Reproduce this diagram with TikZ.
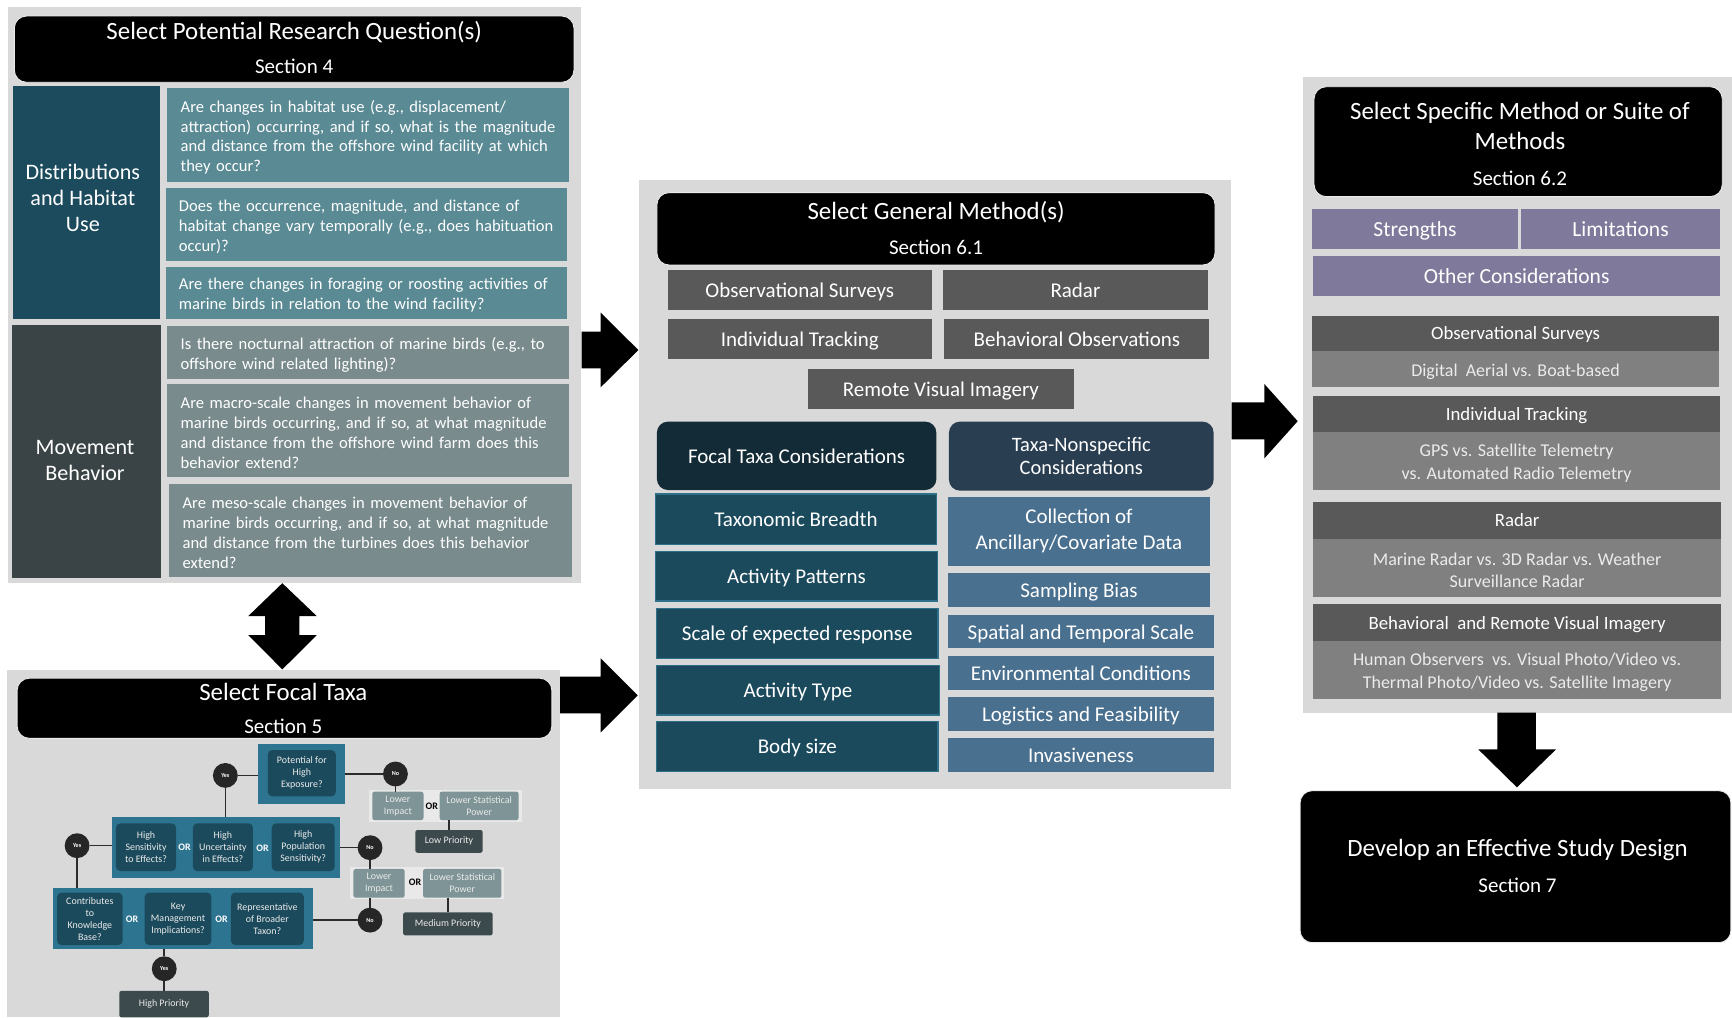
\documentclass[tikz,border=0pt]{standalone}
\usepackage{fontspec}
\setmainfont{Carlito}
\definecolor{panelgray}{HTML}{D9D9D9}
\definecolor{distteal}{HTML}{1C4B5D}
\definecolor{qteal}{HTML}{5A8A94}
\definecolor{movdark}{HTML}{3A4446}
\definecolor{qgray}{HTML}{798B8D}
\definecolor{methgray}{HTML}{595959}
\definecolor{focalhead}{HTML}{132B37}
\definecolor{nonspechead}{HTML}{2A3E51}
\definecolor{focalbox}{HTML}{1B4A5D}
\definecolor{focalborder}{HTML}{2F7089}
\definecolor{nonspecbox}{HTML}{4A7090}
\definecolor{purplec}{HTML}{7F7A9B}
\definecolor{subgray}{HTML}{808080}
\definecolor{flowteal}{HTML}{2D7491}
\definecolor{flowinner}{HTML}{1B4A5C}
\definecolor{flowlight}{HTML}{7E9496}
\definecolor{flowdark}{HTML}{3D4A4D}
\definecolor{circc}{HTML}{262626}
\definecolor{stripc}{HTML}{E9E9E9}
\definecolor{linec}{HTML}{2B2B2B}
\newcommand\fsT{\fontsize{22.5}{25}\selectfont}
\newcommand\fsS{\fontsize{19}{22}\selectfont}
\newcommand\fsQ{\fontsize{15}{18}\selectfont}
\newcommand\fsL{\fontsize{20}{23.5}\selectfont}
\newcommand\fsM{\fontsize{19}{23.5}\selectfont}
\newcommand\fsN{\fontsize{18.5}{21}\selectfont}
\newcommand\fsPu{\fontsize{19.5}{22}\selectfont}
\newcommand\fsH{\fontsize{17}{20}\selectfont}
\newcommand\fsD{\fontsize{16.3}{20.5}\selectfont}
\newcommand\fsF{\fontsize{9}{10.9}\selectfont}
\newcommand\fsY{\fontsize{5.5}{6}\selectfont\bfseries}
\tikzset{
  box/.style={inner sep=0pt, outer sep=0pt, align=center, text=white},
  dsc/.style={text depth=0pt},
  panel/.style={box, fill=panelgray},
  ttl/.style={box, fill=black, draw=white!92!black, line width=0.8pt, rounded corners=11pt},
  txt/.style={inner sep=0pt, outer sep=0pt, text=white, align=center},
  qtxt/.style={inner sep=0pt, outer sep=0pt, align=left, text=white, font=\fsQ},
  mbox/.style={box, fill=methgray, font=\fsM},
  fcb/.style={box, fill=focalbox, draw=focalborder, line width=1.2pt, font=\fsM},
  ncb/.style={box, fill=nonspecbox, font=\fsM},
  pbox/.style={box, fill=purplec, font=\fsPu},
  hbox/.style={box, fill=methgray, font=\fsH},
  dtxt/.style={txt, font=\fsD, text=white!92!black},
  fbox/.style={box, fill=flowinner, rounded corners=4pt, font=\fsF, text=white!92!black},
  lbox/.style={box, fill=flowlight, rounded corners=2pt, font=\fsF, text=white!92!black},
  dbox/.style={box, fill=flowdark, rounded corners=2pt, font=\fsF, text=white!92!black},
  yn/.style={circle, fill=circc, text=white, minimum size=22.5pt, inner sep=0pt, outer sep=0pt, font=\fsY},
  orl/.style={inner sep=0pt, text=white, font=\fontsize{9}{10}\selectfont\bfseries},
  fl/.style={draw=linec, line width=1.4pt},
  blk/.style={fill=black}
}
\newcommand\bx[7]{\node[#6, minimum width={#4-#2}, minimum height={#5-#3}] (#1) at ({(#2+#4)/2},{(#3+#5)/2}) {#7};}
\newcommand\qbx[7]{\pgfmathsetmacro\qtw{#4-#2-24}%
  \node[box, fill=#6, minimum width={#4-#2}, minimum height={#5-#3}] (#1) at ({(#2+#4)/2},{(#3+#5)/2}) {};
  \node[qtxt, text width=\qtw pt] (#1t) at ([yshift=-2pt]#1.center) {#7};}
\newcommand\dbx[6]{%
  \node[box, fill=subgray, minimum width={#4-#2}, minimum height={#5-#3}] (#1) at ({(#2+#4)/2},{(#3+#5)/2}) {};
  \node[dtxt] (#1t) at ([yshift=-2pt]#1.center) {#6};}
\begin{document}
\begin{tikzpicture}[x=1pt,y=-1pt]
\useasboundingbox (0,0) rectangle (1568,921);
\fill[white] (0,0) rectangle (1568,921);

% ---------------- Panel 1: research questions
\bx{p1}{6.8}{6}{526.4}{528}{panel}{}
\bx{t1}{13}{14.5}{519.6}{74.5}{ttl}{}
\node[txt,font=\fsT] (t1a) at (266.3,28.7) {Select Potential Research Question(s)};
\node[txt,font=\fsS] (t1b) at (266.3,60.4) {Section 4};
\bx{dist}{12}{78}{145}{288.5}{box,fill=distteal}{}
\node[txt,font=\fsL] (distt) at (75,179) {Distributions\\and Habitat\\Use};
\bx{mov}{11}{294.2}{146}{523.6}{box,fill=movdark}{}
\node[txt,font=\fsL] (movt) at (77,416.5) {Movement\\Behavior};
\qbx{q1}{151.6}{80}{515.2}{164.5}{qteal}{Are changes in habitat use (e.g., displacement/\\attraction) occurring, and if so, what is the magnitude\\and distance from the offshore wind facility at which\\they occur?}
\qbx{q2}{150}{170.5}{513.5}{236.3}{qteal}{Does the occurrence, magnitude, and distance of\\habitat change vary temporally (e.g., does habituation\\occur)?}
\qbx{q3}{150}{241.4}{513.5}{289.1}{qteal}{Are there changes in foraging or roosting activities of\\marine birds in relation to the wind facility?}
\qbx{q4}{151.6}{295.1}{515.2}{343.4}{qgray}{Is there nocturnal attraction of marine birds (e.g., to\\offshore wind related lighting)?}
\qbx{q5}{151.6}{348}{515.2}{432}{qgray}{Are macro-scale changes in movement behavior of\\marine birds occurring, and if so, at what magnitude\\and distance from the offshore wind farm does this\\behavior extend?}
\qbx{q6}{153.3}{438.2}{517.9}{522.6}{qgray}{Are meso-scale changes in movement behavior of\\marine birds occurring, and if so, at what magnitude\\and distance from the turbines does this behavior\\extend?}

% ---------------- Panel 2: focal taxa
\bx{p2}{6.5}{606.5}{507}{921}{panel}{}
\bx{t2}{15.5}{614}{499.6}{668.4}{ttl}{}
\node[txt,font=\fsT] (t2a) at (256.5,626.2) {Select Focal Taxa};
\node[txt,font=\fsS] (t2b) at (256.5,657.9) {Section 5};

\bx{potO}{233.4}{673.6}{312}{728.2}{box,fill=flowteal}{}
\bx{pot}{242.5}{679}{304}{721}{fbox}{Potential for\\High\\Exposure?}
\node[yn] (yesA) at (204,702) {Yes};
\node[yn] (noA) at (358,700.7) {No};
\bx{strip1}{334}{715}{472.7}{744}{box,fill=stripc}{}
\bx{li1}{337}{716.7}{383.4}{742.4}{lbox}{Lower\\Impact}
\node[orl,text=black] (or1) at (391,729.7) {OR};
\bx{lsp1}{398}{716.7}{469.5}{742.4}{lbox}{Lower Statistical\\Power}
\bx{lp}{376}{751.4}{437}{772}{dbox}{Low Priority}

\bx{r2}{101.5}{740}{308}{794.6}{box,fill=flowteal}{}
\bx{hs}{105}{745.4}{159.4}{788.6}{fbox}{High\\Sensitivity\\to Effects?}
\node[orl] (or2) at (167,767) {OR};
\bx{hu}{174.6}{745.4}{229}{788.6}{fbox}{High\\Uncertainty\\in Effects?}
\node[orl] (or3) at (237.6,767.5) {OR};
\bx{hps}{246}{745.4}{303}{788.6}{fbox}{High\\Population\\Sensitivity?}
\node[yn] (yesB) at (69.8,765.6) {Yes};
\node[yn] (noB) at (335,767.4) {No};
\bx{strip2}{317}{784.6}{456}{814}{box,fill=stripc}{}
\bx{li2}{320}{786.7}{366.3}{812.7}{lbox}{Lower\\Impact}
\node[orl,text=black] (or4) at (375.7,798.5) {OR};
\bx{lsp2}{383}{786.7}{454}{812.7}{lbox}{Lower Statistical\\Power}
\node[yn] (noC) at (335,833) {No};
\bx{mp}{365}{826}{446}{846.8}{dbox}{Medium Priority}

\bx{r3}{47.8}{804}{283}{859}{box,fill=flowteal}{}
\bx{ckb}{51.7}{808}{111}{855.6}{fbox}{Contributes\\to\\Knowledge\\Base?}
\node[orl] (or5) at (119.6,832) {OR};
\bx{kmi}{131}{808}{191.4}{855.6}{fbox}{Key\\Management\\Implications?}
\node[orl] (or6) at (200.5,832) {OR};
\bx{rbt}{209}{808}{275}{855.6}{fbox}{Representative\\of Broader\\Taxon?}
\node[yn] (yesC) at (148.7,877) {Yes};
\bx{hp}{108}{897}{189}{921}{dbox}{High Priority}

\draw[fl] (yesA.east) -- (yesA.east -| potO.west);
\draw[fl] (yesA.south) -- (yesA.south |- r2.north);
\draw[fl] (noA.west) -- (noA.west -| potO.east);
\draw[fl] (noA.south) -- (noA.south |- li1.north);
\draw[fl] (lp.north |- lsp1.south) -- (lp.north);
\draw[fl] (yesB.east) -- (yesB.east -| r2.west);
\draw[fl] (yesB.south) -- (yesB.south |- r3.north);
\draw[fl] (noB.west) -- (noB.west -| r2.east);
\draw[fl] (noB.south) -- (noB.south |- li2.north);
\draw[fl] (noC.north |- li2.south) -- (noC.north);
\draw[fl] (noC.west) -- (noC.west -| r3.east);
\draw[fl] (mp.north |- lsp2.south) -- (mp.north);
\draw[fl] (yesC.north |- r3.south) -- (yesC.north);
\draw[fl] (yesC.south) -- (yesC.south |- hp.north);

% ---------------- Panel 3: general methods
\bx{p3}{578.2}{163}{1114.5}{714.6}{panel}{}
\bx{t3}{594.7}{174.4}{1100}{239.9}{ttl}{}
\node[txt,font=\fsT] (t3a) at (847.4,191.6) {Select General Method(s)};
\node[txt,font=\fsS] (t3b) at (847.4,223.9) {Section 6.1};
\bx{m1}{604.4}{244.4}{843.8}{280.6}{mbox,dsc}{Observational Surveys}
\bx{m2}{853.9}{244.4}{1093.3}{280.6}{mbox}{Radar}
\bx{m3}{604.4}{288.8}{843.8}{325.3}{mbox,dsc}{Individual Tracking}
\bx{m4}{855}{288.8}{1094.8}{325.3}{mbox}{Behavioral Observations}
\bx{m5}{731.8}{334.4}{971.9}{370.5}{mbox,dsc}{Remote Visual Imagery}
\bx{fh}{594.7}{381.7}{847.7}{443.6}{box,fill=focalhead,rounded corners=10pt,font=\fsM}{Focal Taxa Considerations}
\bx{nh}{859.1}{381.7}{1098.7}{444.2}{box,fill=nonspechead,rounded corners=10pt,font=\fsN}{Taxa-Nonspecific\\Considerations}
\bx{f1}{593.6}{447.2}{847.7}{492.8}{fcb}{Taxonomic Breadth}
\bx{f2}{593.6}{499.4}{848.5}{544.1}{fcb,dsc}{Activity Patterns}
\bx{f3}{594.4}{550.7}{849.2}{596}{fcb,dsc}{Scale of expected response}
\bx{f4}{594.4}{602.6}{850.4}{647.3}{fcb,dsc}{Activity Type}
\bx{f5}{594.4}{653.3}{849.2}{698.6}{fcb,dsc}{Body size}
\bx{n1}{858.1}{449.6}{1095.5}{512}{ncb}{Collection of\\Ancillary/Covariate Data}
\bx{n2}{858.1}{519}{1095.5}{549.8}{ncb,dsc}{Sampling Bias}
\bx{n3}{858.1}{556.8}{1099}{587}{ncb,dsc}{Spatial and Temporal Scale}
\bx{n4}{858.1}{593.9}{1099}{624.7}{ncb}{Environmental Conditions}
\bx{n5}{858.1}{631.3}{1099}{661.5}{ncb,dsc}{Logistics and Feasibility}
\bx{n6}{858.1}{668.4}{1099}{699.2}{ncb}{Invasiveness}

% ---------------- Panel 4: specific methods
\bx{p4}{1180}{70}{1568}{645.8}{panel}{}
\bx{t4}{1189.6}{78.5}{1559.2}{178}{ttl}{}
\node[txt,font=\fsT] (t4a) at (1376,102.6) {Select Specific Method or Suite of};
\node[txt,font=\fsT] (t4b) at (1376,127.3) {Methods};
\node[txt,font=\fsS] (t4c) at (1376,161.4) {Section 6.2};
\bx{s1}{1187.8}{189.5}{1374.3}{225.4}{pbox,dsc}{Strengths}
\bx{s2}{1377.2}{189.5}{1557}{225.4}{pbox}{Limitations}
\bx{s3}{1189}{231.8}{1557}{268}{pbox}{Other Considerations}
\bx{h1}{1188}{285.8}{1556}{317.8}{hbox,dsc}{Observational Surveys}
\dbx{d1}{1188}{317.8}{1556}{350.6}{Digital\ \ Aerial vs. Boat-based}
\bx{h2}{1189}{358.5}{1557}{390.8}{hbox,dsc}{Individual Tracking}
\dbx{d2}{1189}{390.8}{1557}{443.6}{GPS vs. Satellite Telemetry\\vs. Automated Radio Telemetry}
\bx{h3}{1189}{454.2}{1558}{488.3}{hbox}{Radar}
\dbx{d3}{1189}{488.3}{1558}{540.2}{Marine Radar vs. 3D Radar vs. Weather\\Surveillance Radar}
\bx{h4}{1189}{547}{1558}{580.3}{hbox,dsc}{Behavioral\ \ and Remote Visual Imagery}
\dbx{d4}{1189}{580.3}{1558}{633}{Human Observers\ \ vs. Visual Photo/Video vs.\\Thermal Photo/Video vs. Satellite Imagery}

% ---------------- Final box
\bx{fin}{1177}{715.8}{1567}{853.4}{ttl}{}
\node[txt,font=\fsT] (fina) at (1373.8,769.5) {Develop an Effective Study Design};
\node[txt,font=\fsS] (finb) at (1373.8,801.8) {Section 7};

% ---------------- Block arrows
\fill[blk] (526.6,300.3) -- (543.8,300.3) -- (543.8,283) -- (577.9,316.9) -- (543.8,350.6) -- (543.8,333.4) -- (526.6,333.4) -- cycle;
\fill[blk] (507,612.6) -- (543.8,612.6) -- (543.8,596) -- (577.3,629.5) -- (543.8,663) -- (543.8,645.8) -- (507,645.8) -- cycle;
\fill[blk] (1115,364.2) -- (1144.6,364.2) -- (1144.6,347.6) -- (1174.8,381.3) -- (1144.6,415) -- (1144.6,397.7) -- (1115,397.7) -- cycle;
\fill[blk] (1355.5,645.2) -- (1390.5,645.2) -- (1390.5,678.4) -- (1408.7,678.4) -- (1373.3,712.8) -- (1338.3,678.4) -- (1355.5,678.4) -- cycle;
\fill[blk] (255.6,528) -- (286.7,557.7) -- (271,557.7) -- (271,575) -- (286.7,575) -- (255.6,606) -- (224.8,575) -- (240,575) -- (240,557.7) -- (224.8,557.7) -- cycle;
\end{tikzpicture}
\end{document}
